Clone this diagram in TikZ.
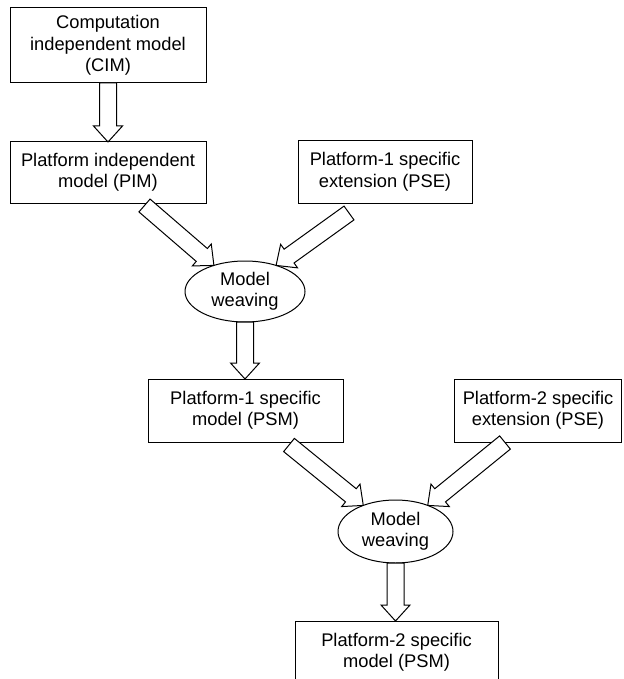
\documentclass[tikz,border=0pt]{standalone}
\usepackage{fontspec}
\setmainfont{Liberation Sans}
\usetikzlibrary{shapes.geometric,calc}

\tikzset{
  label font/.style={font=\fontsize{18.3}{21.5}\selectfont},
  box/.style={draw, line width=1pt, fill=white, align=center,
    inner sep=0pt, outer sep=0pt, label font},
  weave/.style={ellipse, draw, line width=1pt, fill=white, align=center,
    inner sep=0pt, outer sep=0pt, label font},
  fat/.style={draw, line width=1pt, fill=white, line join=miter}
}

% hollow block arrow from #1 (tail centre) to #2 (tip)
\newcommand\fatarrow[2]{%
  \coordinate (fa-neck) at ($(#2)!16pt!(#1)$);
  \draw[fat] ($(#1)!8.5pt!90:(#2)$)
    -- ($(fa-neck)!8.5pt!90:(#2)$)
    -- ($(fa-neck)!14.5pt!90:(#2)$)
    -- (#2)
    -- ($(fa-neck)!14.5pt!-90:(#2)$)
    -- ($(fa-neck)!8.5pt!-90:(#2)$)
    -- ($(#1)!8.5pt!-90:(#2)$) -- cycle;
}

\begin{document}
\begin{tikzpicture}[x=1pt,y=-1pt]
\useasboundingbox (0,0) rectangle (623,679);

% models and extensions
\node[box, minimum width=196pt, minimum height=75pt] (cim) at (108,45.5)
  {Computation\\independent model\\(CIM)};
\node[box, minimum width=196pt, minimum height=61pt] (pim) at (108,172.5)
  {Platform independent\\model (PIM)};
\node[box, minimum width=174pt, minimum height=62pt] (pse1) at (385,172)
  {Platform-1 specific\\extension (PSE)};
\node[weave, minimum width=120pt, minimum height=61pt] (w1) at (245,291.5)
  {Model\\weaving};
\node[box, minimum width=195pt, minimum height=63pt] (psm1) at (245.5,410.5)
  {Platform-1 specific\\model (PSM)};
\node[box, minimum width=167pt, minimum height=63pt] (pse2) at (538,410.5)
  {Platform-2 specific\\extension (PSE)};
\node[weave, minimum width=115pt, minimum height=63pt] (w2) at (395.5,531.5)
  {Model\\weaving};
\node[box, minimum width=203pt, minimum height=63pt] (psm2) at (396.5,652.5)
  {Platform-2 specific\\model (PSM)};

% tail points of the slanted arrows
\coordinate (t-pim)  at ($(pim.south)+(36.5,2.5)$);
\coordinate (t-pse1) at ($(pse1.south)+(-36,10)$);
\coordinate (t-psm1) at ($(psm1.south)+(43.5,3)$);
\coordinate (t-pse2) at ($(pse2.south west)+(50.5,0.5)$);

% transformation steps
\fatarrow{cim.south}{pim.north}
\fatarrow{t-pim}{w1.140}
\fatarrow{t-pse1}{w1.40}
\fatarrow{w1.south}{w1.south |- psm1.north}
\fatarrow{t-psm1}{w2.141}
\fatarrow{t-pse2}{w2.39}
\fatarrow{w2.south}{w2.south |- psm2.north}
\end{tikzpicture}
\end{document}
